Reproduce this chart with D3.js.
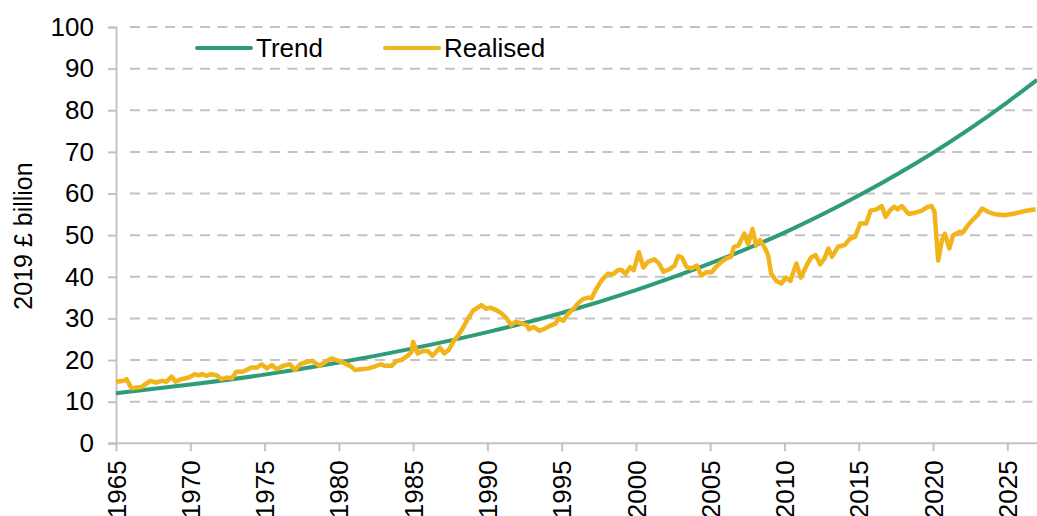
<!DOCTYPE html>
<html>
<head>
<meta charset="utf-8">
<script src="https://cdn.jsdelivr.net/npm/d3@7"></script>
<style>
  body { margin: 0; background: #fff; }
  text { font-family: "Liberation Sans", Arial, sans-serif; fill: #000; }
</style>
</head>
<body>
<div id="chart-area"></div>
<script>
/*
*    trend vs realised
*/

var margin = { left:116, right:0, top:27, bottom:73 };
var width = 1037, height = 516;

// tick labels
let yTicks = [0,10,20,30,40,50,60,70,80,90,100]
let xTicks = [1965,1970,1975,1980,1985,1990,1995,2000,2005,2010,2015,2020,2025]

// series names
let seriesNames = ["Trend", "Realised"]

// trend, read every 5 years
let trendYears  = [1965,1970,1975,1980,1985,1990,1995,2000,2005,2010,2015,2020,2025,2027]
let trendValues = [12.0,14.1,16.5,19.4,22.8,26.7,31.3,36.8,43.2,50.6,59.5,69.8,81.9,87.3]

// realised, [year, value]
let realised = [
  [1965.0,14.8],[1965.5,15.0],[1965.7,15.4],[1966.05,13.2],[1966.4,13.4],[1966.7,13.5],
  [1967.3,15.0],[1967.7,14.6],[1968.1,15.0],[1968.4,14.8],[1968.75,16.0],[1969.0,14.8],
  [1969.4,15.4],[1969.9,15.8],[1970.3,16.6],[1970.55,16.3],[1970.8,16.6],[1971.1,16.2],
  [1971.4,16.6],[1971.8,16.3],[1972.1,15.4],[1972.45,15.8],[1972.8,15.6],[1973.1,17.2],
  [1973.5,17.2],[1973.8,17.6],[1974.1,18.2],[1974.5,18.2],[1974.8,19.0],[1975.15,18.0],
  [1975.5,18.8],[1975.8,17.8],[1976.25,18.6],[1976.7,19.0],[1977.05,17.6],[1977.4,19.0],
  [1977.7,19.4],[1978.2,19.8],[1978.7,18.6],[1979.2,19.8],[1979.5,20.4],[1980.0,19.8],
  [1980.4,19.2],[1980.75,18.6],[1981.1,17.6],[1981.5,17.8],[1982.0,18.0],[1982.4,18.4],
  [1982.8,19.0],[1983.1,18.6],[1983.55,18.6],[1983.9,19.8],[1984.2,20.0],[1984.7,21.2],
  [1984.9,22.0],[1985.0,24.4],[1985.3,21.6],[1985.7,22.2],[1986.0,22.2],[1986.3,21.0],
  [1986.6,22.2],[1986.8,23.0],[1987.1,21.6],[1987.4,22.4],[1987.7,24.4],[1988.05,26.0],
  [1988.4,28.0],[1988.7,30.0],[1989.05,31.9],[1989.4,32.7],[1989.6,33.2],[1989.9,32.3],
  [1990.2,32.6],[1990.6,32.0],[1990.95,31.2],[1991.3,30.0],[1991.6,28.4],[1991.9,29.2],
  [1992.3,28.8],[1992.65,28.4],[1992.8,27.4],[1993.1,28.0],[1993.5,27.0],[1993.9,27.6],
  [1994.2,28.2],[1994.6,28.8],[1994.8,30.0],[1995.1,29.4],[1995.45,31.2],[1995.8,32.3],
  [1996.1,33.6],[1996.45,34.7],[1996.8,35.0],[1997.0,34.8],[1997.35,37.2],[1997.7,39.2],
  [1998.1,40.7],[1998.45,40.6],[1998.8,41.6],[1999.05,41.6],[1999.3,40.7],[1999.6,42.3],
  [1999.85,41.6],[2000.2,45.9],[2000.5,42.2],[2000.8,43.6],[2001.25,44.2],[2001.55,43.2],
  [2001.85,41.2],[2002.3,41.9],[2002.6,42.7],[2002.85,45.0],[2003.1,44.6],[2003.4,42.4],
  [2003.75,42.0],[2004.1,42.7],[2004.4,40.3],[2004.75,41.1],[2005.1,41.1],[2005.4,42.4],
  [2005.75,43.6],[2006.1,44.4],[2006.4,44.8],[2006.6,47.2],[2006.9,47.5],[2007.3,50.4],
  [2007.55,47.8],[2007.85,51.5],[2008.1,47.5],[2008.35,48.8],[2008.7,46.8],[2008.9,45.2],
  [2009.1,40.8],[2009.45,39.0],[2009.8,38.4],[2010.1,39.8],[2010.4,39.0],[2010.8,43.2],
  [2011.1,39.8],[2011.5,42.8],[2011.8,44.7],[2012.1,45.2],[2012.4,43.0],[2012.7,44.4],
  [2012.95,46.8],[2013.2,44.8],[2013.6,47.2],[2014.05,47.6],[2014.4,49.1],[2014.75,49.6],
  [2015.1,52.8],[2015.5,52.8],[2015.8,55.9],[2016.2,56.2],[2016.55,57.0],[2016.8,54.4],
  [2017.1,55.9],[2017.4,56.8],[2017.6,56.2],[2017.9,57.0],[2018.35,55.1],[2018.8,55.4],
  [2019.25,55.9],[2019.6,56.7],[2019.9,57.0],[2020.1,55.6],[2020.35,43.9],[2020.6,48.8],
  [2020.8,50.3],[2021.1,46.8],[2021.35,50.0],[2021.8,50.8],[2022.0,50.6],[2022.35,52.4],
  [2022.7,53.8],[2023.0,54.8],[2023.3,56.4],[2023.7,55.6],[2024.2,55.0],[2024.8,54.8],
  [2025.5,55.2],[2026.2,55.8],[2026.9,56.2]
]

const colors = { Trend: "#2e9d77", Realised: "#f1b41a" }
const axisGrey = "#c3c3c3"

const svg = d3.select("#chart-area")
  .append("svg")
    .attr("width", width)
    .attr("height", height)

const x = d3.scaleLinear()
  .domain([1965, 2027])
  .range([margin.left, width - margin.right])

const y = d3.scaleLinear()
  .domain([0, 100])
  .range([443.3, margin.top])

// gridlines
svg.append("g")
  .selectAll("line")
  .data(yTicks.filter(d => d > 0))
  .join("line")
    .attr("x1", 130)
    .attr("x2", width)
    .attr("y1", d => y(d))
    .attr("y2", d => y(d))
    .attr("stroke", axisGrey)
    .attr("stroke-width", 2)
    .attr("stroke-dasharray", "10,7.5")

// y axis
const yAxis = svg.append("g")
  .attr("transform", "translate(" + margin.left + ",0)")
  .call(d3.axisLeft(y).tickValues(yTicks).tickSize(8).tickPadding(14))
yAxis.select(".domain").attr("stroke", axisGrey).attr("stroke-width", 2)
yAxis.selectAll(".tick line").attr("stroke", axisGrey).attr("stroke-width", 2)
yAxis.selectAll(".tick text")
  .attr("font-size", 26)
  .attr("font-family", "Liberation Sans, Arial, sans-serif")

// x axis (labels run off the bottom edge, as in the original)
const xAxis = svg.append("g")
  .attr("transform", "translate(0," + y(0) + ")")
  .call(d3.axisBottom(x).tickValues(xTicks).tickFormat(d3.format("d")).tickSize(8))
xAxis.select(".domain").attr("stroke", axisGrey).attr("stroke-width", 2)
  .attr("d", "M108,0H" + width)
xAxis.selectAll(".tick line").attr("stroke", axisGrey).attr("stroke-width", 2)
xAxis.selectAll(".tick text")
  .attr("font-size", 26)
  .attr("font-family", "Liberation Sans, Arial, sans-serif")
  .attr("text-anchor", "end")
  .attr("transform", "rotate(-90)")
  .attr("x", -17)
  .attr("y", 0)
  .attr("dy", "0.35em")

// y title
svg.append("text")
  .attr("transform", "translate(23,236) rotate(-90)")
  .attr("text-anchor", "middle")
  .attr("dy", "0.35em")
  .attr("font-size", 25)
  .text("2019 £ billion")

// lines
const trendLine = d3.line()
  .x((d, i) => x(trendYears[i]))
  .y(d => y(d))
  .curve(d3.curveMonotoneX)

svg.append("path")
  .datum(trendValues)
  .attr("d", trendLine)
  .attr("fill", "none")
  .attr("stroke", colors.Trend)
  .attr("stroke-width", 4)

const realLine = d3.line()
  .x(d => x(d[0]))
  .y(d => y(d[1]))

svg.append("path")
  .datum(realised)
  .attr("d", realLine)
  .attr("fill", "none")
  .attr("stroke", colors.Realised)
  .attr("stroke-width", 4.5)
  .attr("stroke-linejoin", "round")

// legend
const legend = svg.append("g")
  .selectAll("g")
  .data(seriesNames)
  .join("g")
    .attr("transform", (d, i) => "translate(" + (197 + i * 188) + ",48)")

legend.append("line")
  .attr("x1", 0)
  .attr("x2", 54)
  .attr("stroke", d => colors[d])
  .attr("stroke-width", 4)
  .attr("stroke-linecap", "round")

legend.append("text")
  .attr("x", 59)
  .attr("dy", "0.35em")
  .attr("font-size", 26)
  .text(d => d)
</script>
</body>
</html>
